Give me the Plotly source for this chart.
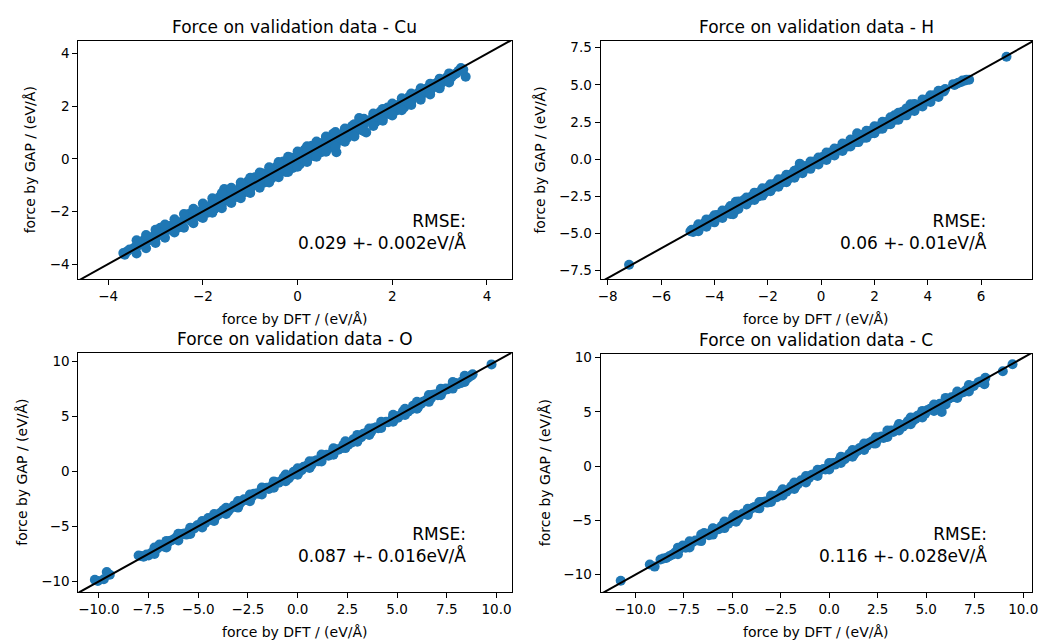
import plotly.graph_objects as go

# ---------------- data ----------------
# core of each point cloud
cu_dft = [-3.68, -3.6, -3.45, -3.3, -3.2, -3.1, -3.0, -2.9, -2.85, -2.75, -2.65, -2.55, -2.5, -2.4,
          -2.3, -2.25, -2.15, -2.05, -2.0, -1.9, -1.8, -1.75, -1.65, -1.6, -1.55, -1.5, -1.45, -1.35,
          -1.3, -1.2, -1.15, -1.05, -1.0, -0.9, -0.85, -0.75, -0.7, -0.6, -0.55, -0.45, -0.4, -0.3,
          -0.25, -0.15, -0.1, 0.0, 0.05, 0.15, 0.2, 0.3, 0.35, 0.45, 0.5, 0.6, 0.65, 0.75, 0.8, 0.82,
          0.9, 1.0, 1.05, 1.15, 1.2, 1.3, 1.35, 1.45, 1.5, 1.6, 1.65, 1.75, 1.8, 1.9, 1.95, 2.05, 2.1,
          2.2, 2.25, 2.35, 2.4, 2.5, 2.6, 2.7, 2.8, 2.9, 3.0, 3.1, 3.2, 3.3, 3.4, 3.45, 3.55,
          -3.65, -3.55, -3.4, -3.35, -3.25, -3.15, -3.05, -2.95, -2.8, -2.7, -2.6, -2.45, -2.35, -2.2,
          -2.1, -1.95, -1.85, -1.7, -1.55, -1.4, -1.25, -1.1, -0.95, -0.8, -0.65, -0.5, -0.35, -0.2,
          -0.05, 0.1, 0.25, 0.4, 0.55, 0.7, 0.85, 0.95, 1.1, 1.25, 1.4, 1.55, 1.7, 1.85, 2.0, 2.15,
          2.3, 2.45, 2.55, 2.65, 2.75, 2.85, 2.95, 3.05, 3.15, 3.25, 3.35, 3.5]
cu_gap = [-3.58, -3.52, -3.38, -3.2, -3.18, -3.0, -3.02, -2.62, -2.9, -2.68, -2.72, -2.4, -2.6, -2.3,
          -2.1, -2.35, -2.0, -2.2, -1.9, -2.05, -1.65, -1.9, -1.45, -1.75, -1.15, -1.3, -1.6, -1.2,
          -1.45, -1.0, -1.3, -0.85, -1.15, -0.7, -1.0, -0.55, -0.9, -0.45, -0.75, -0.3, -0.6, -0.1,
          -0.5, 0.05, -0.35, 0.15, -0.2, 0.35, -0.05, 0.5, 0.1, 0.6, 0.25, 0.8, 0.4, 0.95, 0.5, 0.25,
          0.7, 1.1, 0.8, 1.25, 0.95, 1.55, 1.1, 1.0, 1.45, 1.65, 1.4, 1.8, 1.55, 1.95, 1.7, 2.05, 1.85,
          2.2, 1.95, 2.35, 2.15, 2.45, 2.35, 2.65, 2.55, 2.85, 2.75, 3.0, 2.95, 3.2, 3.35, 3.45, 3.12,
          -3.65, -3.45, -3.35, -3.25, -3.1, -3.1, -2.95, -2.85, -2.75, -2.55, -2.55, -2.45, -2.2, -2.2,
          -2.05, -1.85, -1.8, -1.65, -1.55, -1.4, -1.2, -1.1, -0.9, -0.8, -0.65, -0.5, -0.35, -0.2,
          -0.1, 0.05, 0.2, 0.35, 0.5, 0.65, 0.8, 0.9, 1.0, 1.15, 1.3, 1.45, 1.6, 1.75, 1.95, 2.05,
          2.2, 2.35, 2.5, 2.5, 2.7, 2.7, 2.9, 2.9, 3.1, 3.1, 3.25, 3.4]
# points along the upper and lower edges of the Cu band
cu_edge_dft = [-3.4, -3.2, -3.0, -2.8, -2.6, -2.4, -2.2, -2.0, -1.8, -1.6, -1.4, -1.2, -1.0, -0.8,
               -0.6, -0.4, -0.2, 0.0, 0.2, 0.4, 0.6, 0.8, 1.0, 1.2, 1.4, 1.6, 1.8, 2.0, 2.2, 2.4, 2.6,
               2.8, 3.0, 3.2,
               -3.4, -3.2, -3.0, -2.8, -2.6, -2.4, -2.2, -2.0, -1.8, -1.6, -1.4, -1.2, -1.0, -0.8,
               -0.6, -0.4, -0.2, 0.0, 0.2, 0.4, 0.6, 0.8, 1.0, 1.2, 1.4, 1.6, 1.8, 2.0, 2.2, 2.4, 2.6,
               2.8, 3.0, 3.2]
cu_edge_gap = [-3.1, -2.9, -2.7, -2.5, -2.3, -2.1, -1.9, -1.7, -1.5, -1.3, -1.1, -0.9, -0.72, -0.52,
               -0.32, -0.12, 0.08, 0.28, 0.48, 0.66, 0.85, 1.02, 1.15, 1.32, 1.52, 1.72, 1.9, 2.1, 2.3,
               2.48, 2.68, 2.86, 3.05, 3.25,
               -3.6, -3.4, -3.2, -3.0, -2.8, -2.62, -2.45, -2.25, -2.05, -1.88, -1.68, -1.5, -1.3, -1.1,
               -0.9, -0.7, -0.5, -0.3, -0.12, 0.08, 0.27, 0.46, 0.65, 0.85, 1.05, 1.25, 1.45, 1.65,
               1.85, 2.05, 2.25, 2.45, 2.68, 2.9]

h_dft = [-7.2, -4.9, -4.8, -4.65, -4.5, -4.35, -4.2, -4.05, -3.9, -3.75, -3.6, -3.45, -3.35, -3.25,
         -3.2, -3.1, -2.95, -2.8, -2.65, -2.5, -2.35, -2.2, -2.05, -1.9, -1.75, -1.6, -1.45, -1.3,
         -1.15, -1.0, -0.85, -0.8, -0.7, -0.55, -0.4, -0.25, -0.1, 0.05, 0.2, 0.35, 0.5, 0.65, 0.8,
         0.95, 1.1, 1.25, 1.35, 1.4, 1.55, 1.7, 1.85, 2.0, 2.15, 2.3, 2.45, 2.6, 2.75, 2.9, 3.05, 3.2,
         3.35, 3.5, 3.65, 3.8, 3.95, 4.1, 4.25, 4.4, 4.55, 4.65, 4.95, 5.1, 5.25, 5.4, 5.55, 6.95,
         -4.85, -4.7, -4.55, -4.4, -4.25, -4.1, -3.95, -3.8, -3.65, -3.5, -3.3, -3.05, -2.9, -2.75,
         -2.6, -2.45, -2.3, -2.15, -2.0, -1.85, -1.7, -1.55, -1.4, -1.25, -1.1, -0.95, -0.75, -0.65,
         -0.5, -0.35, -0.2, -0.05, 0.1, 0.25, 0.4, 0.55, 0.7, 0.85, 1.0, 1.15, 1.3, 1.45, 1.6, 1.75,
         1.9, 2.05, 2.2, 2.35, 2.5, 2.65, 2.8, 2.95, 3.1, 3.25, 3.4, 3.55, 3.7, 3.85, 4.0, 4.15, 4.3,
         4.45, 4.6, 5.0, 5.15, 5.3, 5.45]
h_gap = [-7.1, -4.85, -4.9, -4.6, -4.45, -4.25, -4.2, -3.95, -3.75, -3.7, -3.65, -3.3, -3.6, -3.5,
         -2.86, -2.95, -2.85, -2.7, -2.75, -2.4, -2.5, -2.1, -2.15, -1.75, -1.85, -1.5, -1.55, -1.2,
         -1.25, -0.9, -0.65, -0.3, -0.75, -0.45, -0.45, -0.15, -0.2, 0.15, 0.1, 0.45, 0.4, 0.7, 0.65,
         1.0, 0.95, 1.35, 1.75, 1.25, 1.65, 1.5, 1.9, 1.85, 2.2, 2.15, 2.5, 2.5, 2.95, 2.8, 3.2, 3.05,
         3.7, 3.45, 3.6, 3.85, 3.9, 4.1, 4.3, 4.35, 4.6, 4.72, 5.05, 5.1, 5.2, 5.3, 5.35, 6.9,
         -4.75, -4.75, -4.5, -4.35, -4.3, -4.1, -3.9, -3.85, -3.55, -3.55, -3.7, -3.05, -2.75, -2.85,
         -2.5, -2.55, -2.2, -2.3, -1.9, -1.95, -1.6, -1.65, -1.3, -1.35, -1.0, -1.05, -0.6, -0.7,
         -0.5, -0.25, -0.3, 0.05, 0.0, 0.35, 0.3, 0.65, 0.6, 0.95, 0.85, 1.2, 1.15, 1.6, 1.45, 1.8,
         1.75, 2.15, 2.05, 2.4, 2.35, 2.75, 2.65, 3.05, 2.95, 3.3, 3.3, 3.6, 3.65, 3.8, 4.05, 4.15, 4.25,
         4.5, 4.55, 5.0, 5.15, 5.3, 5.35]
h_edge_dft = [-4.6, -4.3, -4.0, -3.7, -3.4, -3.1, -2.8, -2.5, -2.2, -1.9, -1.6, -1.3, -1.0, -0.7, -0.4,
              -0.1, 0.2, 0.5, 0.8, 1.1, 1.4, 1.7, 2.0, 2.3, 2.6, 2.9, 3.2, 3.5, 3.8, 4.1, 4.4,
              -4.6, -4.3, -4.0, -3.7, -3.4, -3.1, -2.8, -2.5, -2.2, -1.9, -1.6, -1.3, -1.0, -0.7, -0.4,
              -0.1, 0.2, 0.5, 0.8, 1.1, 1.4, 1.7, 2.0, 2.3, 2.6, 2.9, 3.2, 3.5, 3.8, 4.1, 4.4]
h_edge_gap = [-4.38, -4.05, -3.78, -3.45, -3.15, -2.85, -2.58, -2.25, -1.95, -1.68, -1.35, -1.05, -0.78,
              -0.45, -0.15, 0.12, 0.45, 0.72, 1.05, 1.32, 1.65, 1.92, 2.22, 2.52, 2.82, 3.12, 3.42, 3.72,
              4.02, 4.3, 4.6,
              -4.85, -4.55, -4.25, -3.95, -3.68, -3.35, -3.05, -2.75, -2.45, -2.15, -1.85, -1.55, -1.25,
              -0.95, -0.65, -0.35, -0.05, 0.25, 0.55, 0.85, 1.15, 1.45, 1.75, 2.05, 2.35, 2.65, 2.95,
              3.25, 3.55, 3.85, 4.18]

o_dft = [-10.2, -10.05, -9.75, -9.6, -9.45, -8.0, -7.75, -7.5, -7.2, -6.95, -6.7, -6.4, -6.1, -5.85,
         -5.6, -5.3, -5.05, -4.8, -4.5, -4.3, -4.0, -3.75, -3.5, -3.2, -2.95, -2.7, -2.45, -2.2, -1.95,
         -1.7, -1.45, -1.2, -0.95, -0.7, -0.45, -0.2, 0.05, 0.3, 0.55, 0.8, 1.05, 1.3, 1.55, 1.8, 2.05,
         2.3, 2.55, 2.8, 3.05, 3.3, 3.55, 3.8, 4.05, 4.3, 4.55, 4.8, 5.05, 5.3, 5.55, 5.8, 6.05, 6.3,
         6.55, 6.8, 7.05, 7.3, 7.55, 7.8, 8.05, 8.3, 8.55, 8.75, 9.75,
         -7.85, -7.6, -7.35, -7.05, -6.8, -6.55, -6.25, -5.95, -5.7, -5.45, -5.2, -4.9, -4.65, -4.4,
         -4.15, -3.9, -3.6, -3.35, -3.1, -2.85, -2.6, -2.3, -2.05, -1.8, -1.55, -1.3, -1.05, -0.8,
         -0.55, -0.3, -0.05, 0.2, 0.45, 0.7, 0.95, 1.2, 1.45, 1.7, 1.95, 2.2, 2.45, 2.7, 2.95, 3.2,
         3.45, 3.7, 3.95, 4.2, 4.45, 4.7, 4.95, 5.2, 5.45, 5.7, 5.95, 6.2, 6.45, 6.7, 6.95, 7.2, 7.45,
         7.7, 7.95, 8.2, 8.45, 8.65, 8.8]
o_gap = [-9.85, -9.95, -9.8, -9.15, -9.4, -7.65, -7.75, -7.65, -7.3, -6.65, -6.85, -6.3, -6.0, -5.7,
         -5.75, -5.2, -4.9, -4.95, -4.25, -4.45, -3.95, -3.55, -3.65, -3.1, -3.05, -2.55, -2.6, -2.05,
         -2.05, -1.55, -1.6, -1.05, -1.05, -0.55, -0.65, -0.05, -0.1, 0.4, 0.4, 0.9, 0.9, 1.4, 1.4,
         1.9, 1.95, 2.4, 2.4, 2.9, 2.9, 3.4, 3.4, 3.9, 3.9, 4.35, 4.45, 4.85, 4.85, 5.45, 5.4, 5.95,
         5.8, 6.3, 6.4, 6.95, 6.9, 7.25, 7.45, 7.75, 7.9, 8.2, 8.45, 8.7, 9.7,
         -7.7, -7.55, -7.4, -7.0, -6.7, -6.55, -6.2, -5.9, -5.65, -5.4, -5.2, -4.8, -4.7, -4.35,
         -4.2, -3.8, -3.6, -3.35, -3.05, -2.8, -2.6, -2.3, -2.0, -1.8, -1.5, -1.35, -1.0, -0.85,
         -0.5, -0.35, 0.0, 0.1, 0.5, 0.6, 1.0, 1.1, 1.5, 1.6, 2.0, 2.1, 2.5, 2.6, 3.0, 3.1,
         3.5, 3.6, 4.0, 4.1, 4.5, 4.6, 5.0, 5.1, 5.5, 5.6, 6.0, 6.1, 6.45, 6.6, 7.0, 7.1, 7.5,
         7.6, 8.0, 8.0, 8.4, 8.6, 8.8]
o_edge_dft = [-7.2, -6.6, -6.0, -5.4, -4.8, -4.2, -3.6, -3.0, -2.4, -1.8, -1.2, -0.6, 0.0, 0.6, 1.2,
              1.8, 2.4, 3.0, 3.6, 4.2, 4.8, 5.4, 6.0, 6.6, 7.2, 7.8, 8.4,
              -7.2, -6.6, -6.0, -5.4, -4.8, -4.2, -3.6, -3.0, -2.4, -1.8, -1.2, -0.6, 0.0, 0.6, 1.2,
              1.8, 2.4, 3.0, 3.6, 4.2, 4.8, 5.4, 6.0, 6.6, 7.2, 7.8, 8.4]
o_edge_gap = [-6.92, -6.32, -5.68, -5.12, -4.52, -3.88, -3.32, -2.7, -2.12, -1.48, -0.92, -0.3, 0.28,
              0.9, 1.52, 2.08, 2.72, 3.3, 3.88, 4.5, 5.12, 5.68, 6.3, 6.92, 7.48, 8.1, 8.66,
              -7.5, -6.92, -6.28, -5.7, -5.1, -4.52, -3.88, -3.3, -2.72, -2.1, -1.5, -0.9, -0.32, 0.3,
              0.88, 1.5, 2.1, 2.68, 3.3, 3.92, 4.5, 5.1, 5.68, 6.3, 6.9, 7.5, 8.1]

c_dft = [-10.75, -9.25, -9.0, -8.7, -8.4, -8.1, -7.55, -7.4, -7.05, -6.75, -6.45, -6.2, -5.95, -5.7,
         -5.45, -5.2, -4.95, -4.7, -4.45, -4.2, -3.95, -3.7, -3.45, -3.2, -2.95, -2.7, -2.45, -2.2,
         -1.95, -1.7, -1.45, -1.2, -0.95, -0.7, -0.45, -0.2, 0.05, 0.3, 0.55, 0.8, 1.05, 1.3, 1.55,
         1.8, 2.05, 2.3, 2.55, 2.8, 3.05, 3.3, 3.55, 3.8, 4.05, 4.3, 4.55, 4.8, 5.05, 5.3, 5.55, 5.8,
         6.0, 6.3, 6.55, 6.8, 7.05, 7.3, 7.7, 8.0, 8.05, 8.95, 9.45,
         -8.55, -8.25, -7.95, -7.7, -7.2, -6.9, -6.6, -6.35, -6.05, -5.85, -5.55, -5.3, -5.05, -4.85,
         -4.6, -4.35, -4.1, -3.85, -3.6, -3.3, -3.05, -2.85, -2.6, -2.35, -2.05, -1.85, -1.6, -1.3,
         -1.05, -0.85, -0.6, -0.3, -0.05, 0.2, 0.45, 0.7, 0.95, 1.2, 1.45, 1.7, 1.95, 2.2, 2.45, 2.7,
         2.95, 3.2, 3.45, 3.7, 3.95, 4.2, 4.45, 4.7, 4.95, 5.2, 5.45, 5.7, 5.9, 6.15, 6.45, 6.7, 6.95,
         7.2, 7.45, 7.8, 8.0]
c_gap = [-10.55, -9.05, -9.25, -8.6, -8.45, -8.15, -7.3, -7.5, -7.0, -6.85, -6.15, -6.35, -5.75, -5.8,
         -5.35, -5.3, -4.7, -4.85, -4.35, -4.3, -3.85, -3.85, -3.3, -3.35, -2.75, -2.85, -2.35, -2.35,
         -1.85, -1.8, -1.3, -1.35, -0.85, -0.8, -0.35, -0.3, 0.15, 0.15, 0.65, 0.65, 1.15, 1.15, 1.65,
         1.65, 2.15, 2.1, 2.65, 2.6, 3.15, 3.15, 3.65, 3.65, 4.15, 4.15, 4.65, 4.65, 5.15, 5.2, 5.6,
         5.0, 6.05, 6.35, 6.5, 6.75, 7.0, 7.3, 7.75, 7.55, 8.15, 8.75, 9.4,
         -8.5, -8.3, -7.95, -7.6, -7.25, -6.85, -6.55, -6.25, -6.0, -5.85, -5.5, -5.2, -5.05, -4.75,
         -4.55, -4.4, -4.0, -3.75, -3.55, -3.25, -3.1, -2.75, -2.6, -2.25, -2.1, -1.75, -1.6, -1.25,
         -1.1, -0.75, -0.6, -0.25, -0.1, 0.3, 0.4, 0.8, 0.9, 1.3, 1.4, 1.8, 1.9, 2.3, 2.35, 2.75,
         2.85, 3.3, 3.35, 3.8, 3.85, 4.3, 4.35, 4.8, 4.85, 5.3, 5.35, 5.75, 5.8, 6.2, 6.4, 6.7, 6.85,
         7.2, 7.4, 7.8, 7.95]
c_edge_dft = [-7.8, -7.2, -6.6, -6.0, -5.4, -4.8, -4.2, -3.6, -3.0, -2.4, -1.8, -1.2, -0.6, 0.0, 0.6,
              1.2, 1.8, 2.4, 3.0, 3.6, 4.2, 4.8, 5.4, 6.0, 6.6, 7.2,
              -7.8, -7.2, -6.6, -6.0, -5.4, -4.8, -4.2, -3.6, -3.0, -2.4, -1.8, -1.2, -0.6, 0.0, 0.6,
              1.2, 1.8, 2.4, 3.0, 3.6, 4.2, 4.8, 5.4, 6.0, 6.6, 7.2]
c_edge_gap = [-7.5, -6.92, -6.3, -5.72, -5.1, -4.5, -3.92, -3.3, -2.7, -2.12, -1.5, -0.9, -0.32, 0.3,
              0.88, 1.5, 2.1, 2.68, 3.3, 3.9, 4.5, 5.1, 5.68, 6.3, 6.88, 7.48,
              -8.1, -7.48, -6.9, -6.3, -5.7, -5.12, -4.5, -3.88, -3.3, -2.7, -2.1, -1.5, -0.9, -0.3,
              0.3, 0.88, 1.5, 2.1, 2.7, 3.3, 3.88, 4.5, 5.1, 5.7, 6.3, 6.9]

elements = ["Cu", "H", "O", "C"]
rmse_text = ["0.029 +- 0.002eV/Å", "0.06 +- 0.01eV/Å", "0.087 +- 0.016eV/Å", "0.116 +- 0.028eV/Å"]
dft_all = [cu_dft + cu_edge_dft, h_dft + h_edge_dft, o_dft + o_edge_dft, c_dft + c_edge_dft]
gap_all = [cu_gap + cu_edge_gap, h_gap + h_edge_gap, o_gap + o_edge_gap, c_gap + c_edge_gap]

# axis settings per panel
x_ranges = [[-4.63, 4.52], [-8.27, 7.91], [-11.03, 10.76], [-11.79, 10.46]]
y_ranges = [[-4.58, 4.49], [-8.08, 7.97], [-10.96, 10.75], [-11.59, 10.39]]
x_dticks = [2, 2, 2.5, 2.5]
y_dticks = [2, 2.5, 5, 5]
x_fmts = ["d", "d", ".1f", ".1f"]
y_fmts = ["d", ".1f", "d", "d"]
ytitle_shift = [-48, -61, -56, -56]

W, H = 1051, 641
boxes = [(76, 513, 37, 277), (602.7, 1038, 37, 277), (76, 513, 351, 591.7), (602.7, 1038, 351.7, 591.7)]

FONT = "DejaVu Sans"
BLUE = "#1f77b4"

fig = go.Figure()
annotations = []
for i in range(4):
    ax = "" if i == 0 else str(i + 1)
    xa, ya = "x" + ax, "y" + ax
    x0, x1, y0, y1 = boxes[i]
    fig.add_trace(go.Scatter(x=dft_all[i], y=gap_all[i], mode="markers", xaxis=xa, yaxis=ya,
                             marker=dict(color=BLUE, size=10, line=dict(width=0)), showlegend=False,
                             hoverinfo="skip"))
    lo = min(x_ranges[i][0], y_ranges[i][0])
    hi = max(x_ranges[i][1], y_ranges[i][1])
    fig.add_trace(go.Scatter(x=[lo, hi], y=[lo, hi], mode="lines", xaxis=xa, yaxis=ya,
                             line=dict(color="black", width=2), showlegend=False, hoverinfo="skip"))
    common = dict(showline=True, linecolor="black", linewidth=1, mirror=True, ticks="outside",
                  ticklen=5, tickwidth=1, tickcolor="black", showgrid=False, zeroline=False,
                  tickfont=dict(family=FONT, size=13.5, color="black"))
    fig.update_layout(**{
        "xaxis" + ax: dict(domain=[x0 / W, x1 / W], range=x_ranges[i], anchor=ya, dtick=x_dticks[i],
                           tick0=0, tickformat=x_fmts[i], **common),
        "yaxis" + ax: dict(domain=[1 - y1 / H, 1 - y0 / H], range=y_ranges[i], anchor=xa,
                           dtick=y_dticks[i], tick0=0, tickformat=y_fmts[i], **common),
    })
    annotations.append(dict(text="Force on validation data - " + elements[i], xref=xa + " domain",
                            yref=ya + " domain", x=0.5, y=1, xanchor="center", yanchor="bottom",
                            yshift=2, showarrow=False, font=dict(family=FONT, size=17, color="black")))
    annotations.append(dict(text="force by DFT / (eV/Å)", xref=xa + " domain", yref=ya + " domain",
                            x=0.5, y=0, xanchor="center", yanchor="middle", yshift=-40,
                            showarrow=False, font=dict(family=FONT, size=14, color="black")))
    annotations.append(dict(text="force by GAP / (eV/Å)", xref=xa + " domain", yref=ya + " domain",
                            x=0, y=0.5, xanchor="center", yanchor="middle", xshift=ytitle_shift[i],
                            textangle=-90, showarrow=False,
                            font=dict(family=FONT, size=14, color="black")))
    annotations.append(dict(text="RMSE:<br>" + rmse_text[i], xref=xa + " domain", yref=ya + " domain",
                            x=0.9, y=0.1, xanchor="right", yanchor="bottom", align="right",
                            showarrow=False, font=dict(family=FONT, size=17, color="black")))

fig.update_layout(width=W, height=H, margin=dict(l=0, r=0, t=0, b=0), plot_bgcolor="white",
                  paper_bgcolor="white", annotations=annotations)
fig.write_html("out.html")
